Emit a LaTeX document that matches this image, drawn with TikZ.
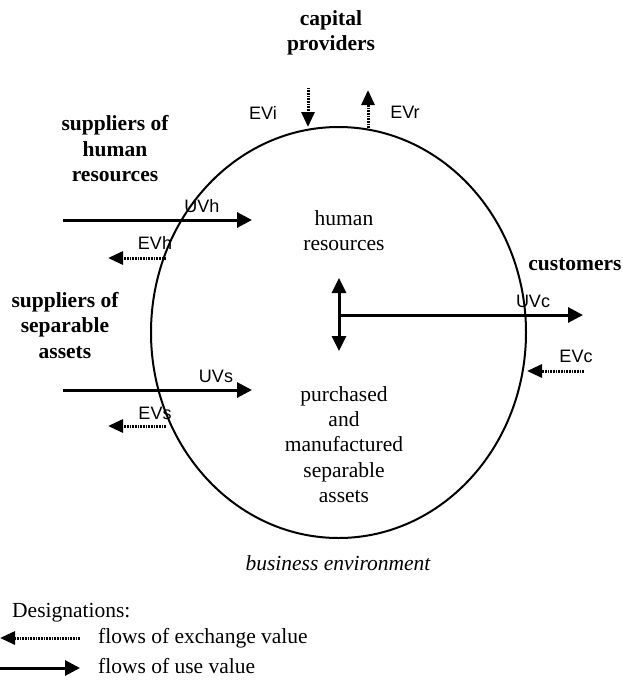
\documentclass[tikz,border=0pt]{standalone}
\usepackage{fontspec}
\setmainfont{Liberation Serif}
\newfontfamily\labfont{Liberation Sans}
\usetikzlibrary{arrows.meta,shapes.geometric}
\begin{document}
\begin{tikzpicture}[x=1pt,y=-1pt,
  txt/.style={inner sep=0pt,align=center,font=\fontsize{21.5}{25.3}\selectfont},
  btxt/.style={inner sep=0pt,align=center,font=\fontsize{21.5}{25.5}\selectfont\bfseries},
  lab/.style={inner sep=0pt,font=\labfont\fontsize{18}{20}\selectfont},
  usearrow/.style={line width=3pt,-{Triangle[length=15pt,width=15pt]}},
  exarrow/.style={line width=3pt,dash pattern=on 0.9pt off 0.7pt,-{Triangle[length=15pt,width=13pt]}},
]
\useasboundingbox (0,0) rectangle (622,683);

% firm
\node[draw,ellipse,line width=2pt,minimum width=375pt,minimum height=411pt,inner sep=0pt] (firm) at (338.5,332.5) {};

% texts
\node[btxt] (cap) at (331,33) {capital\\providers};
\node[btxt] (suph) at (115,149) {suppliers of\\human\\resources};
\node[btxt] (sups) at (65,325.5) {suppliers of\\separable\\assets};
\node[btxt] (cust) at (575,265) {customers};
\node[txt] (hr) at (344,230.5) {human\\resources};
\node[txt] (psa) at (344,444.5) {purchased\\and\\manufactured\\separable\\assets};
\node[txt,font=\fontsize{21.5}{25.3}\selectfont\itshape] (env) at (338,563) {business environment};
\node[txt,anchor=west] (desig) at (12,613) {Designations:};
\node[txt,anchor=west] (lex) at (98,638) {flows of exchange value};
\node[txt,anchor=west] (luse) at (98,666) {flows of use value};

% labels
\node[lab] (EVi) at (263,113) {EVi};
\node[lab] (EVr) at (405,112) {EVr};
\node[lab] (UVh) at (202,206) {UVh};
\node[lab] (EVh) at (155,243) {EVh};
\node[lab] (UVs) at (216,376) {UVs};
\node[lab] (EVs) at (155,413) {EVs};
\node[lab] (UVc) at (533,301) {UVc};
\node[lab] (EVc) at (576,356) {EVc};

% coordinates
\coordinate (evi1) at (308,88);  \coordinate (evi2) at (308,127);
\coordinate (evr1) at (368,128); \coordinate (evr2) at (368,90);
\coordinate (uvh1) at (63,220);  \coordinate (uvh2) at (252,220);
\coordinate (evh1) at (166,258); \coordinate (evh2) at (108,258);
\coordinate (uvs1) at (63,390);  \coordinate (uvs2) at (252,390);
\coordinate (evs1) at (166,426); \coordinate (evs2) at (108,426);
\coordinate (vt) at (339,278);   \coordinate (vb) at (339,351);
\coordinate (uvc1) at (339,315); \coordinate (uvc2) at (583,315);
\coordinate (evc1) at (584,371); \coordinate (evc2) at (527,371);
\coordinate (lex1) at (80,638);  \coordinate (lex2) at (0,638);
\coordinate (lus1) at (0,668);   \coordinate (lus2) at (80,668);

% arrows
\draw[exarrow] (evi1) -- (evi2);
\draw[exarrow] (evr1) -- (evr2);
\draw[usearrow] (uvh1) -- (uvh2);
\draw[exarrow] (evh1) -- (evh2);
\draw[usearrow] (uvs1) -- (uvs2);
\draw[exarrow] (evs1) -- (evs2);
\draw[line width=3pt,{Triangle[length=15pt,width=14pt]}-{Triangle[length=15pt,width=14pt]}] (vt) -- (vb);
\draw[usearrow] (uvc1) -- (uvc2);
\draw[exarrow] (evc1) -- (evc2);
\draw[exarrow] (lex1) -- (lex2);
\draw[usearrow] (lus1) -- (lus2);
\end{tikzpicture}
\end{document}
